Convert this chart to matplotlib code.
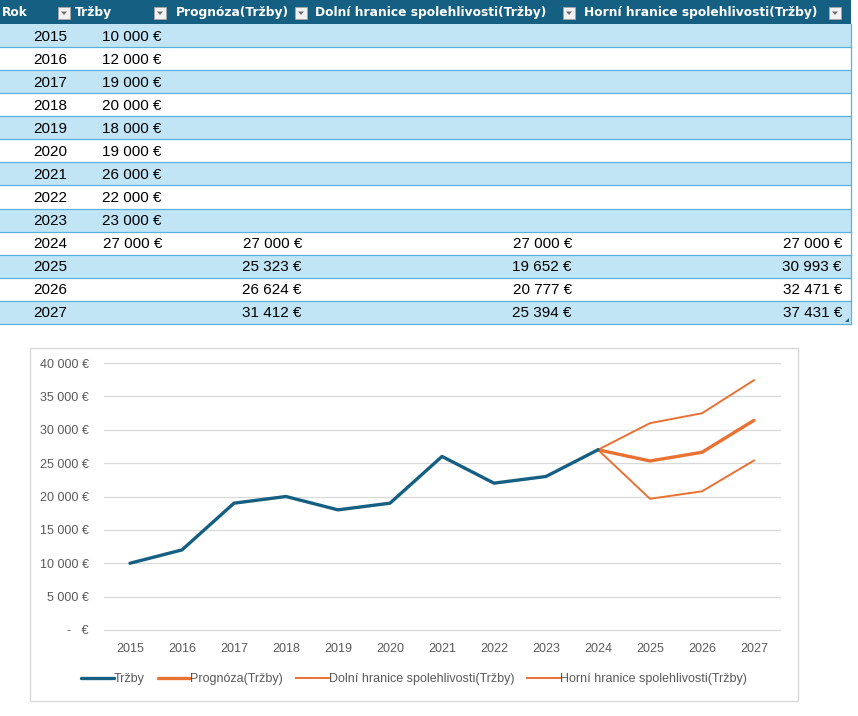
import matplotlib
matplotlib.use("Agg")
import matplotlib.pyplot as plt
from matplotlib.patches import Rectangle, Polygon
from matplotlib.ticker import FuncFormatter

# data from the sheet
roky = [2015, 2016, 2017, 2018, 2019, 2020, 2021, 2022, 2023, 2024, 2025, 2026, 2027]
trzby = [10000, 12000, 19000, 20000, 18000, 19000, 26000, 22000, 23000, 27000, None, None, None]
prognoza = [None] * 9 + [27000, 25323, 26624, 31412]
dolni = [None] * 9 + [27000, 19652, 20777, 25394]
horni = [None] * 9 + [27000, 30993, 32471, 37431]
hlavicky = ["Rok", "Tržby", "Prognóza(Tržby)", "Dolní hranice spolehlivosti(Tržby)",
            "Horní hranice spolehlivosti(Tržby)"]
y_ticks = [0, 5000, 10000, 15000, 20000, 25000, 30000, 35000, 40000]

W, H = 858, 716
DARK = "#156082"
BAND = "#C2E5F5"
LINE = "#5BB1DE"
ORANGE = "#E97132"
GREY = "#595959"


def eur(v):
    return f"{v:,.0f}".replace(",", " ") + " €"


fig = plt.figure(figsize=(W / 100, H / 100), dpi=100)
bg = fig.add_axes([0, 0, 1, 1])
bg.set_xlim(0, W)
bg.set_ylim(H, 0)
bg.axis("off")

# ---- table ----
tab_r = 851
head_h = 24
row_h = 23.07
bg.add_patch(Rectangle((0, 0), tab_r, head_h, color=DARK, lw=0))
head_x = [2, 75, 176, 315, 584]
drop_x = [58, 154, 295, 563, 829]
for hx, txt in zip(head_x, hlavicky):
    bg.text(hx, 12.5, txt, color="white", fontsize=8.8, fontweight="bold",
            family="DejaVu Sans", va="center", ha="left")
for dx in drop_x:
    bg.add_patch(Rectangle((dx, 7), 12, 12, facecolor="#F2F2F2", edgecolor="#A6A6A6", lw=0.6))
    bg.add_patch(Polygon([(dx + 3, 11.5), (dx + 9, 11.5), (dx + 6, 15)], closed=True,
                         facecolor="#6E6E6E", lw=0))

val_right = [67, 162, 302, 572, 842]
cols = [roky, trzby, prognoza, dolni, horni]
for i in range(len(roky)):
    y0 = head_h + i * row_h
    if i % 2 == 0:
        bg.add_patch(Rectangle((0, y0), tab_r, row_h, color=BAND, lw=0))
    bg.plot([0, tab_r], [y0 + row_h, y0 + row_h], color=LINE, lw=0.9)
    for c, (xr, col) in enumerate(zip(val_right, cols)):
        v = col[i]
        if v is None:
            continue
        s = str(v) if c == 0 else eur(v)
        bg.text(xr, y0 + row_h / 2 + 1, s, fontsize=11, family="Liberation Sans",
                color="black", ha="right", va="center")
bg.plot([tab_r, tab_r], [head_h, head_h + 13 * row_h], color=LINE, lw=0.9)
bg.add_patch(Polygon([(849, 318), (849, 322), (845, 322)], closed=True, facecolor=DARK, lw=0))

# ---- chart ----
bg.add_patch(Rectangle((29.5, 347.5), 768, 353, facecolor="white", edgecolor="#D9D9D9", lw=1))

left, right, top, bottom = 104, 780, 363, 630
ax = fig.add_axes([left / W, 1 - bottom / H, (right - left) / W, (bottom - top) / H])
ax.patch.set_alpha(0)
xi = list(range(len(roky)))
ax.plot(xi, trzby, color=DARK, lw=2.4, solid_joinstyle="round", solid_capstyle="round",
        label="Tržby", zorder=4)
ax.plot(xi, prognoza, color=ORANGE, lw=2.4, solid_joinstyle="round", solid_capstyle="round",
        label="Prognóza(Tržby)", zorder=3)
ax.plot(xi, dolni, color=ORANGE, lw=1.4, solid_joinstyle="round",
        label="Dolní hranice spolehlivosti(Tržby)", zorder=3)
ax.plot(xi, horni, color=ORANGE, lw=1.4, solid_joinstyle="round",
        label="Horní hranice spolehlivosti(Tržby)", zorder=3)

ax.set_xlim(-0.5, len(roky) - 0.5)
ax.set_ylim(0, 40000)
ax.set_xticks(xi)
ax.set_xticklabels([str(r) for r in roky])
ax.set_yticks(y_ticks)
ax.yaxis.set_major_formatter(FuncFormatter(lambda v, p: "-   €" if v == 0 else eur(v)))
for s in ax.spines.values():
    s.set_visible(False)
ax.grid(axis="y", color="#D9D9D9", lw=0.9)
ax.set_axisbelow(True)
for gl in ax.get_ygridlines():
    gl.set_clip_on(False)
ax.tick_params(axis="both", length=0, labelsize=9, labelcolor=GREY)
ax.tick_params(axis="x", pad=9)
ax.tick_params(axis="y", pad=11)
for t in ax.get_xticklabels() + ax.get_yticklabels():
    t.set_family("Liberation Sans")

leg = ax.legend(loc="center", bbox_to_anchor=(414 / W, 1 - 679 / H), bbox_transform=fig.transFigure,
                ncol=4, frameon=False, handlelength=2.6, handletextpad=0, columnspacing=1.05,
                prop={"family": "Liberation Sans", "size": 9}, labelcolor=GREY)

fig.savefig("out.png", dpi=100)
